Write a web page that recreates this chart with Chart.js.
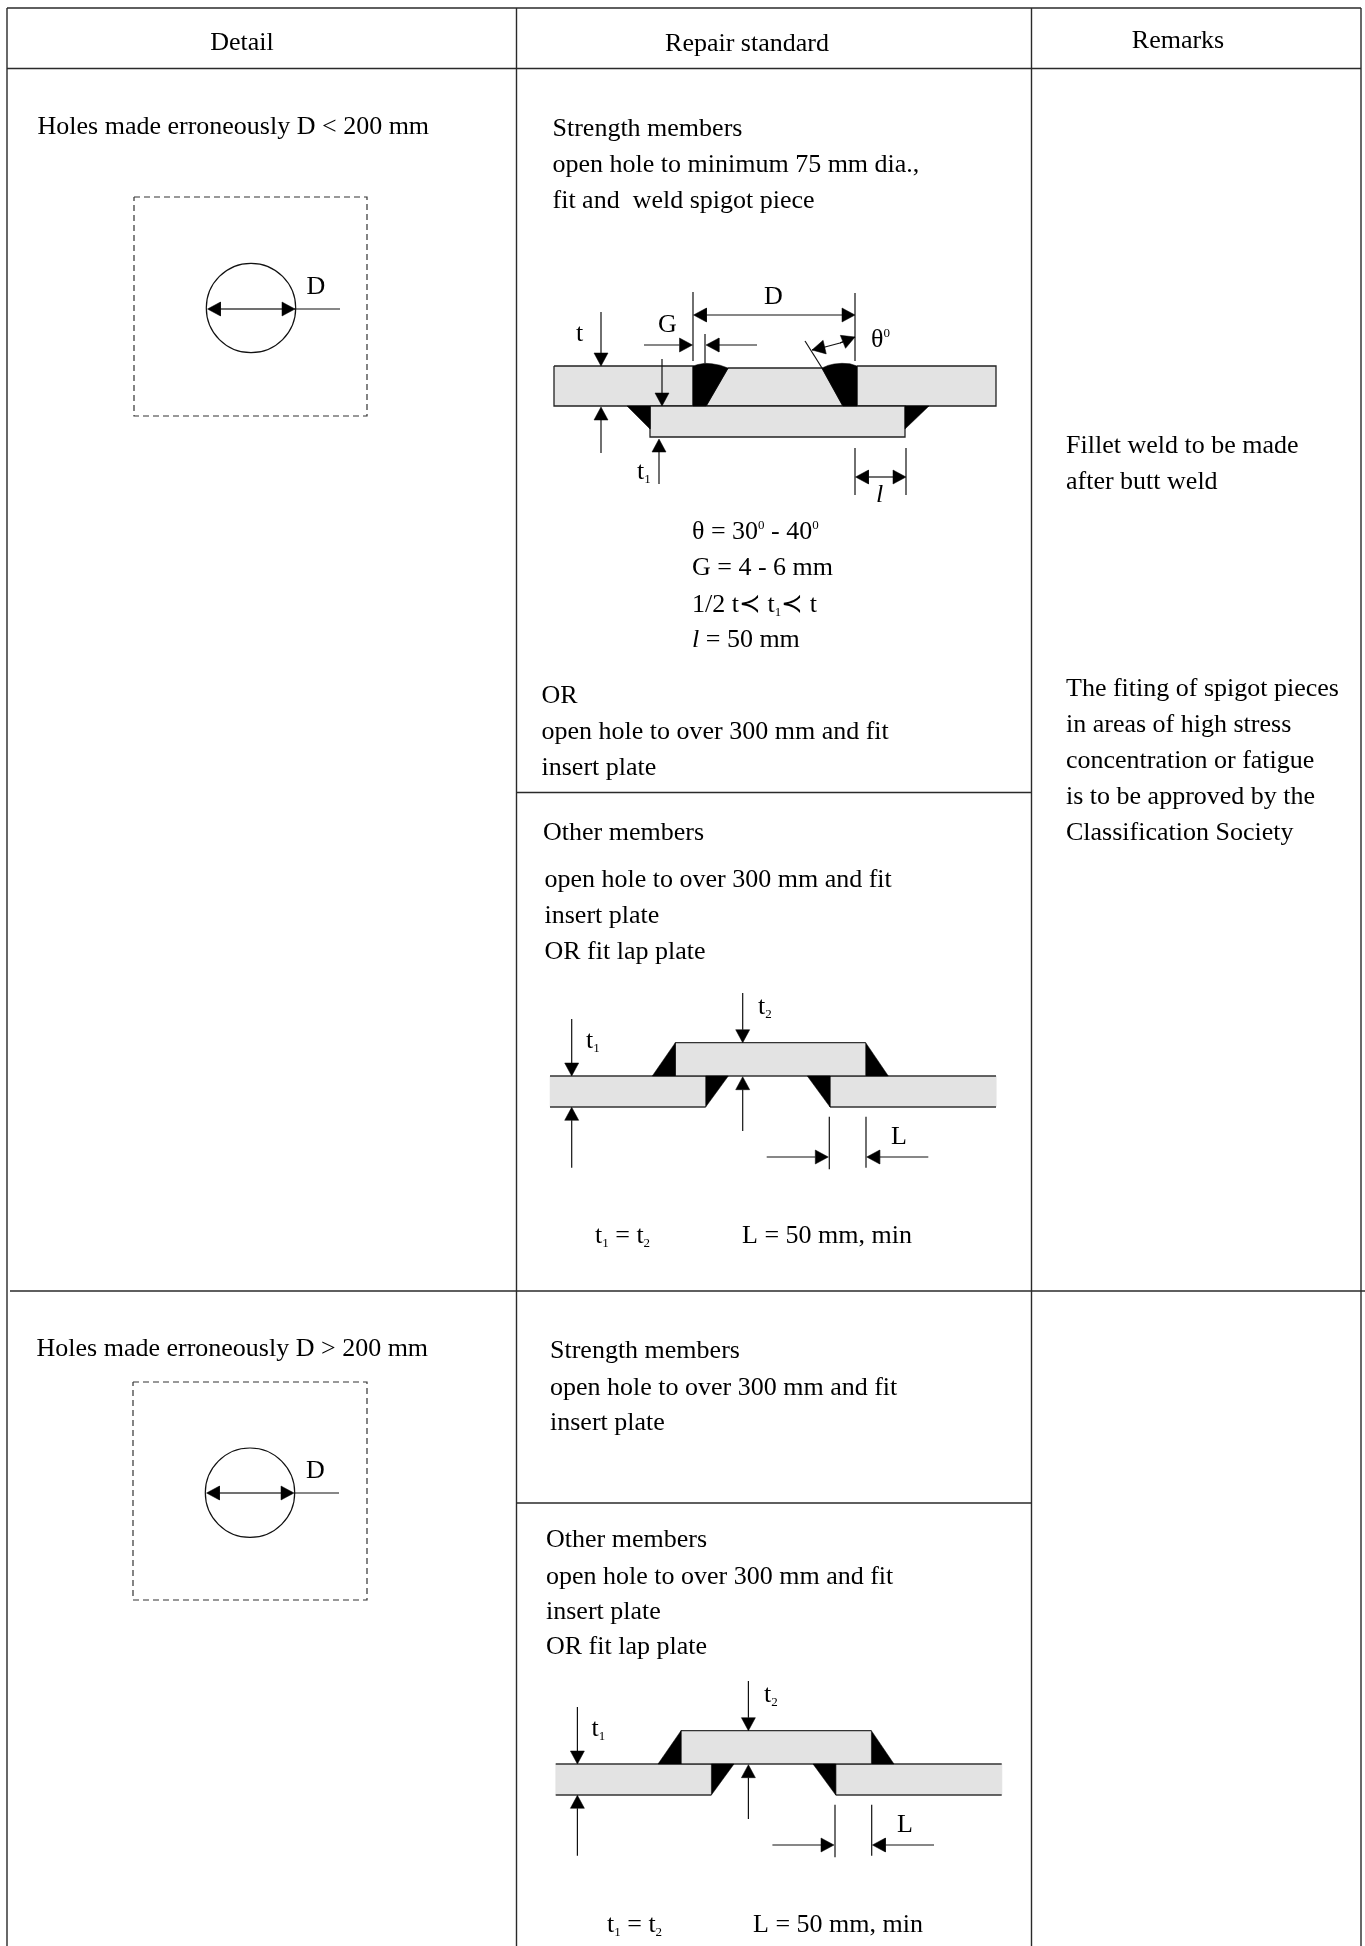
<!DOCTYPE html>
<html>
<head>
    <meta charset="utf-8">
    <title>Repair standard</title>
    <script src="https://cdn.jsdelivr.net/npm/chart.js@4/dist/chart.umd.min.js"></script>
    <style>
        html, body { margin: 0; padding: 0; background: #fff; }
        #wrap { width: 1365px; height: 1946px; }
    </style>
</head>
<body>
<div id="wrap"><canvas id="sheet"></canvas></div>
<script>
    // everything is in sheet units, the axes run 0-1365 and 0-1946 (y down)

    // table rules: x1, y1, x2, y2
    const tableRules = [
        [7, 8, 1361, 8], [7, 68.5, 1361, 68.5], [10, 1291, 1365, 1291],
        [7, 8, 7, 1946], [516.5, 8, 516.5, 1946], [1031.5, 8, 1031.5, 1946], [1361, 8, 1361, 1946],
        [516.5, 792.5, 1031.5, 792.5], [516.5, 1503, 1031.5, 1503]
    ];

    // plain text: x, baseline y, string. _ and ^ mark a small lowered/raised digit
    const textLeft = [
        [37.5, 134, 'Holes made erroneously D < 200 mm'],
        [552.5, 136, 'Strength members'],
        [552.5, 172, 'open hole to minimum 75 mm dia.,'],
        [552.5, 208, 'fit and  weld spigot piece'],
        [692, 539, 'θ = 30^0 - 40^0'],
        [692, 575, 'G = 4 - 6 mm'],
        [692, 612, '1/2 t≺ t_1≺ t'],
        [692, 647, '~l = 50 mm'],
        [541.5, 703, 'OR'],
        [541.5, 739, 'open hole to over 300 mm and fit'],
        [541.5, 775, 'insert plate'],
        [543, 840, 'Other members'],
        [544.5, 887, 'open hole to over 300 mm and fit'],
        [544.5, 923, 'insert plate'],
        [544.5, 959, 'OR fit lap plate'],
        [1066, 453, 'Fillet weld to be made'],
        [1066, 489, 'after butt weld'],
        [1066, 696, 'The fiting of spigot pieces'],
        [1066, 732, 'in areas of high stress'],
        [1066, 768, 'concentration or fatigue'],
        [1066, 804, 'is to be approved by the'],
        [1066, 840, 'Classification Society'],
        [36.5, 1356, 'Holes made erroneously D > 200 mm'],
        [550, 1358, 'Strength members'],
        [550, 1395, 'open hole to over 300 mm and fit'],
        [550, 1430, 'insert plate'],
        [546, 1547, 'Other members'],
        [546, 1584, 'open hole to over 300 mm and fit'],
        [546, 1619, 'insert plate'],
        [546, 1654, 'OR fit lap plate'],
        [595, 1243, 't_1 = t_2'],
        [742, 1243, 'L = 50 mm, min'],
        [607, 1932, 't_1 = t_2'],
        [753, 1932, 'L = 50 mm, min'],
        [576, 341, 't'],
        [658, 332, 'G'],
        [764, 304, 'D'],
        [871, 347, 'θ^0'],
        [637, 479, 't_1'],
        [876, 502, '~l'],
        [306.5, 294, 'D'],
        [306, 1478, 'D'],
        [586, 1048, 't_1'],
        [758, 1014, 't_2'],
        [891, 1144, 'L'],
        [591.5, 1736, 't_1'],
        [764, 1702, 't_2'],
        [897, 1832, 'L']
    ];
    const textCentered = [
        [242, 50, 'Detail'],
        [747, 51, 'Repair standard'],
        [1178, 48, 'Remarks']
    ];

    // butt weld joint
    const plateFill = '#e3e3e3';
    const buttPlates = [
        [[554, 366], [693, 366], [693, 406], [554, 406]],
        [[857, 366], [996, 366], [996, 406], [857, 406]],
        [[728, 368], [822, 368], [843, 406], [706, 406]],
        [[650, 406], [905, 406], [905, 437], [650, 437]]
    ];
    const buttWelds = [
        [[693, 366], [698, 364.5], [705, 363.3], [712, 363.8], [720, 365.2], [728, 368], [706, 406], [693, 406]],
        [[857, 366], [850, 363.8], [842, 363.3], [834, 364], [828, 365.4], [822, 368], [843, 406], [857, 406]],
        [[627, 406], [650, 406], [650, 429]],
        [[905, 406], [929, 406], [905, 429]]
    ];
    // plain lines without heads
    const buttLines = [
        [[693, 292], [693, 361]], [[855, 293], [855, 361]], [[705, 334], [705, 363]],
        [[805, 341], [822, 368]], [[855, 448], [855, 495]], [[906, 448], [906, 495]]
    ];
    // arrows: from, to (head at to)
    const buttArrows = [
        [[774, 315], [693.5, 315]], [[774, 315], [855, 315]],
        [[601, 312], [601, 366]], [[601, 453], [601, 407]],
        [[644, 345], [692.5, 345]], [[757, 345], [706, 345]],
        [[662, 359], [662, 406]], [[659, 484], [659, 439]],
        [[880, 477], [855.5, 477]], [[880, 477], [906, 477]]
    ];
    const thetaArc = [[812, 350], [825, 347], [840, 343], [855, 337]];

    // lap plate joint, first drawing
    const lapPlates = [
        [[550, 1076], [705.7, 1076], [705.7, 1107], [550, 1107]],
        [[830, 1076], [996, 1076], [996, 1107], [830, 1107]],
        [[675.3, 1042.7], [865.7, 1042.7], [865.7, 1076], [675.3, 1076]]
    ];
    const lapWelds = [
        [[652.3, 1076], [675.3, 1042.7], [675.3, 1076]],
        [[865.7, 1042.7], [888.3, 1076], [865.7, 1076]],
        [[705.7, 1076], [728.3, 1076], [705.7, 1107]],
        [[807.3, 1076], [830, 1076], [830, 1107]]
    ];
    const lapLines = [
        [[829.3, 1116.7], [829.3, 1169.3]], [[866, 1116.7], [866, 1167.7]]
    ];
    const lapArrows = [
        [[571.7, 1019], [571.7, 1076]], [[571.7, 1167.7], [571.7, 1107.3]],
        [[742.7, 993], [742.7, 1042.7]], [[742.7, 1131], [742.7, 1076.7]],
        [[766.7, 1157], [828.3, 1157]], [[928.3, 1157], [866.7, 1157]]
    ];
    // where the lap drawing is repeated in the second row
    const lapShift = [[0, 0], [5.7, 688]];

    // hole detail: box corners, circle centre and radius, leader
    const holeBoxes = [
        [[134, 197], [367, 197], [367, 416], [134, 416], [134, 197]],
        [[133, 1382], [367, 1382], [367, 1600], [133, 1600], [133, 1382]]
    ];
    const holeCentres = [[251, 308], [250, 1492.7]];
    const holeRadius = 44.7;
    const holeLeaders = [[[294, 309], [340, 309]], [[294, 1493], [339, 1493]]];
    const holeArrows = [
        [[251, 309], [207.5, 309]], [[251, 309], [295, 309]],
        [[250, 1493], [206.5, 1493]], [[250, 1493], [294, 1493]]
    ];

    const headLen = 13, headHalf = 7;
    const datasets = [];

    function toPoints(list) {
        return list.map(p => ({ x: p[0], y: p[1] }));
    }
    function addLine(list, width, color, extra) {
        datasets.push(Object.assign({
            data: toPoints(list), showLine: true, borderColor: color, borderWidth: width,
            pointRadius: 0, tension: 0
        }, extra || {}));
    }
    function addShape(list, fill, outline) {
        datasets.push({
            data: toPoints(list.concat([list[0]])), showLine: true, closedFill: fill,
            borderColor: outline || fill, borderWidth: outline ? 1.3 : 0.5, pointRadius: 0
        });
    }
    function addArrow(a) {
        const dx = a[1][0] - a[0][0], dy = a[1][1] - a[0][1];
        const len = Math.hypot(dx, dy), ux = dx / len, uy = dy / len;
        const bx = a[1][0] - ux * headLen, by = a[1][1] - uy * headLen;
        addLine([a[0], [bx, by]], 1.2, '#111');
        addShape([a[1], [bx - uy * headHalf, by + ux * headHalf], [bx + uy * headHalf, by - ux * headHalf]], '#000');
    }

    tableRules.forEach(r => addLine([[r[0], r[1]], [r[2], r[3]]], 1.4, '#2a2a2a'));

    buttPlates.forEach(s => addShape(s, plateFill, '#222'));
    buttWelds.forEach(s => addShape(s, '#000'));
    buttLines.forEach(l => addLine(l, 1.2, '#111'));
    buttArrows.forEach(addArrow);
    addLine(thetaArc, 1.2, '#111');
    addArrow([thetaArc[1], thetaArc[0]]);
    addArrow([thetaArc[2], thetaArc[3]]);

    lapShift.forEach(s => {
        const move = p => [p[0] + s[0], p[1] + s[1]];
        lapPlates.forEach(p => {
            const q = p.map(move);
            addShape(q, plateFill);
            // plate ends stay open, only long edges get a rule
            addLine([q[0], q[1]], 1.3, '#333');
            addLine([q[3], q[2]], 1.3, '#333');
        });
        lapWelds.forEach(w => addShape(w.map(move), '#000'));
        lapLines.forEach(l => addLine(l.map(move), 1.2, '#111'));
        lapArrows.forEach(a => addArrow(a.map(move)));
    });

    holeBoxes.forEach(b => addLine(b, 1.2, '#333', { borderDash: [6, 4] }));
    holeCentres.forEach(c => datasets.push({
        data: toPoints([c]), showLine: false, pointStyle: 'circle', pointRadius: holeRadius,
        pointBackgroundColor: 'transparent', pointBorderColor: '#111', pointBorderWidth: 1.2
    }));
    holeLeaders.forEach(l => addLine(l, 1.2, '#111'));
    holeArrows.forEach(addArrow);

    // first in the list is painted first
    datasets.forEach((d, i) => { d.order = -i; d.clip = false; });

    const closedShapes = {
        id: 'closedShapes',
        beforeDatasetDraw(chart, args) {
            const ds = chart.data.datasets[args.index];
            if (!ds.closedFill) return;
            const ctx = chart.ctx;
            ctx.save();
            ctx.beginPath();
            args.meta.data.forEach((pt, i) => i ? ctx.lineTo(pt.x, pt.y) : ctx.moveTo(pt.x, pt.y));
            ctx.closePath();
            ctx.fillStyle = ds.closedFill;
            ctx.fill();
            ctx.restore();
        }
    };

    const fontSize = 26, smallSize = 13;

    // draws one string, switching to small digits after _ or ^ and italic after ~
    function drawText(ctx, x, y, str, center) {
        const runs = [];
        str.split(/([_^~].)/).forEach(part => {
            if (!part) return;
            if (part[0] === '_' || part[0] === '^' || part[0] === '~') runs.push({ kind: part[0], s: part[1] });
            else runs.push({ kind: '', s: part });
        });
        const fontOf = r => r.kind === '~' ? 'italic ' + fontSize + 'px "Liberation Serif"'
            : (r.kind === '_' || r.kind === '^') ? smallSize + 'px "Liberation Serif"'
            : fontSize + 'px "Liberation Serif"';
        let cx = x;
        if (center) {
            let w = 0;
            runs.forEach(r => { ctx.font = fontOf(r); w += ctx.measureText(r.s).width; });
            cx -= w / 2;
        }
        runs.forEach(r => {
            ctx.font = fontOf(r);
            const off = r.kind === '_' ? 4 : r.kind === '^' ? -10 : 0;
            ctx.fillText(r.s, cx, y + off);
            cx += ctx.measureText(r.s).width;
        });
    }

    const sheetText = {
        id: 'sheetText',
        afterDatasetsDraw(chart) {
            const ctx = chart.ctx, xs = chart.scales.x, ys = chart.scales.y;
            ctx.save();
            ctx.fillStyle = '#000';
            ctx.textAlign = 'left';
            ctx.textBaseline = 'alphabetic';
            textLeft.forEach(t => drawText(ctx, xs.getPixelForValue(t[0]), ys.getPixelForValue(t[1]), t[2], false));
            textCentered.forEach(t => drawText(ctx, xs.getPixelForValue(t[0]), ys.getPixelForValue(t[1]), t[2], true));
            ctx.restore();
        }
    };

    new Chart(document.getElementById('sheet'), {
        type: 'scatter',
        data: { datasets: datasets },
        options: {
            responsive: true,
            maintainAspectRatio: false,
            animation: false,
            layout: { padding: 0, autoPadding: false },
            plugins: { legend: { display: false }, tooltip: { enabled: false } },
            scales: {
                x: { type: 'linear', min: 0, max: 1365, display: false },
                y: { type: 'linear', min: 0, max: 1946, reverse: true, display: false }
            }
        },
        plugins: [closedShapes, sheetText]
    });
</script>
</body>
</html>
